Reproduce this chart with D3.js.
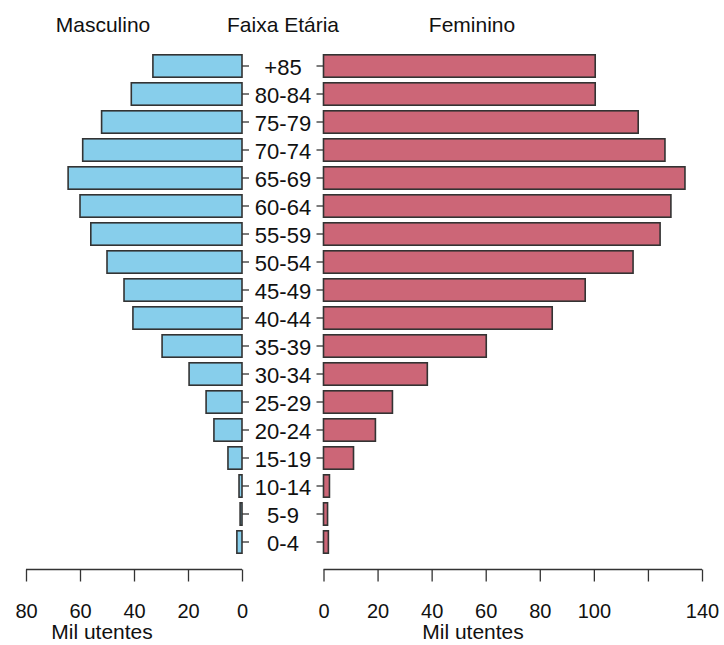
<!DOCTYPE html>
<html>
<head>
<meta charset="utf-8">
<script src="https://cdn.jsdelivr.net/npm/d3@7"></script>
<style>
  body { margin: 0; background: #fff; }
  text { font-family: "Liberation Sans", Arial, sans-serif; fill: #111; }
</style>
</head>
<body>
<script>
// idades, de cima para baixo
var ages = ["+85","80-84","75-79","70-74","65-69","60-64","55-59","50-54","45-49",
            "40-44","35-39","30-34","25-29","20-24","15-19","10-14","5-9","0-4"];
var masculino = [33, 41, 52, 59, 64.4, 60, 56, 50, 43.7, 40.4, 29.6, 19.6, 13.3, 10.4, 5.2, 1.1, 0.7, 1.9];
var feminino = [100.5, 100.5, 116.4, 126.3, 133.7, 128.5, 124.5, 114.5, 96.8, 84.6, 60.2, 38.4, 25.5, 19.2, 11.1, 2.2, 1.5, 1.8];
var ticksM = [80, 60, 40, 20, 0];
var ticksF = [0, 20, 40, 60, 80, 100, 120, 140];
var labelsF = ["0","20","40","60","80","100","","140"];

var W = 724, H = 645;
var svg = d3.select("body").append("svg").attr("width", W).attr("height", H);

var xM = d3.scaleLinear().domain([80, 0]).range([26, 242]);
var xF = d3.scaleLinear().domain([0, 140]).range([323.5, 702]);
var y = d3.scaleBand().domain(ages).range([52, 556]).paddingInner(0.2).paddingOuter(0.1);

var bh = y.bandwidth();

svg.selectAll(".m").data(ages).enter().append("rect")
  .attr("x", function(d, i){ return xM(masculino[i]); })
  .attr("y", function(d){ return y(d); })
  .attr("width", function(d, i){ return xM(0) - xM(masculino[i]); })
  .attr("height", bh)
  .attr("fill", "#87ceeb").attr("stroke", "#333").attr("stroke-width", 1.6);

svg.selectAll(".f").data(ages).enter().append("rect")
  .attr("x", xF(0))
  .attr("y", function(d){ return y(d); })
  .attr("width", function(d, i){ return xF(feminino[i]) - xF(0); })
  .attr("height", bh)
  .attr("fill", "#cc6677").attr("stroke", "#333").attr("stroke-width", 1.6);

// ticks e rótulos das idades
var g = svg.append("g");
ages.forEach(function(a){
  var cy = y(a) + bh / 2;
  g.append("line").attr("x1", 242).attr("x2", 249).attr("y1", cy).attr("y2", cy).attr("stroke", "#333").attr("stroke-width", 1.3);
  g.append("line").attr("x1", 316.5).attr("x2", 323.5).attr("y1", cy).attr("y2", cy).attr("stroke", "#333").attr("stroke-width", 1.3);
  g.append("text").attr("x", 283).attr("y", cy + 9)
    .attr("text-anchor", "middle").style("font-size", "22px").text(a);
});

var axY = 569.5;
var axM = d3.axisBottom(xM).tickValues(ticksM).tickSize(12).tickPadding(22);
var axF = d3.axisBottom(xF).tickValues(ticksF).tickSize(12).tickPadding(22)
  .tickFormat(function(d, i){ return labelsF[i]; });

[axM, axF].forEach(function(ax){
  var a = svg.append("g").attr("transform", "translate(0," + axY + ")").call(ax);
  a.select(".domain").attr("stroke", "#333").attr("stroke-width", 1.3)
    .attr("d", function(){ var r = ax.scale().range(); return "M" + r[0] + ",0H" + r[1]; });
  a.selectAll(".tick line").attr("stroke", "#333").attr("stroke-width", 1.3);
  a.selectAll(".tick text").style("font-size", "20px").style("font-family", "Liberation Sans, Arial, sans-serif").attr("fill", "#111");
});

svg.append("text").attr("x", 102).attr("y", 639).attr("text-anchor", "middle").style("font-size", "21px").text("Mil utentes");
svg.append("text").attr("x", 473).attr("y", 639).attr("text-anchor", "middle").style("font-size", "21px").text("Mil utentes");

svg.append("text").attr("x", 103).attr("y", 32).attr("text-anchor", "middle").style("font-size", "21px").text("Masculino");
svg.append("text").attr("x", 283).attr("y", 32).attr("text-anchor", "middle").style("font-size", "21px").text("Faixa Etária");
svg.append("text").attr("x", 472).attr("y", 32).attr("text-anchor", "middle").style("font-size", "21px").text("Feminino");
</script>
</body>
</html>
